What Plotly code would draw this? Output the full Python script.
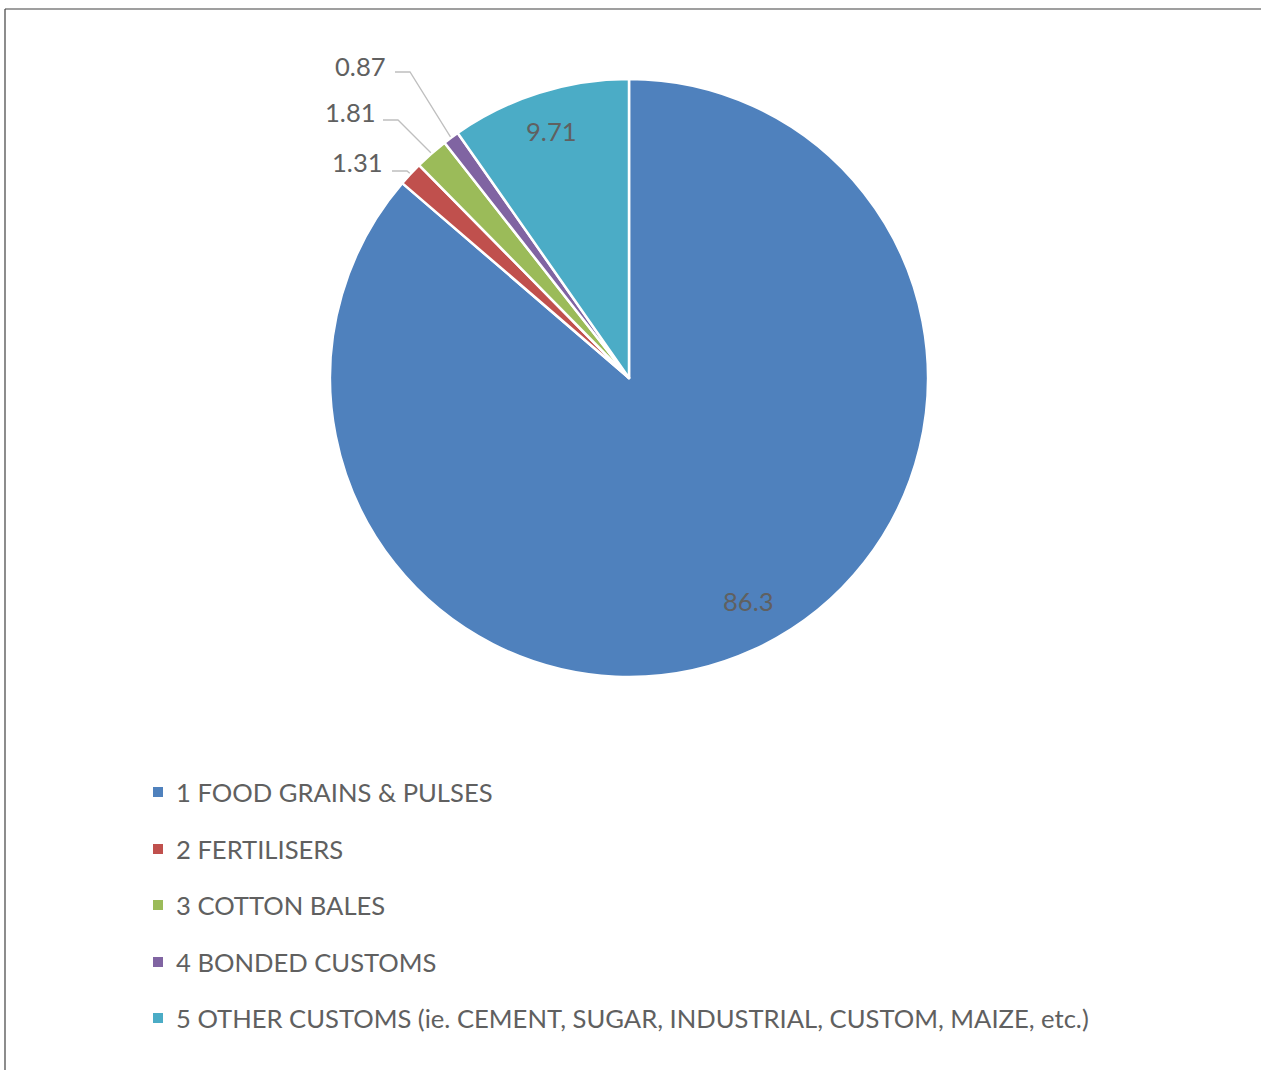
import math
import plotly.graph_objects as go

# ---- data ----
categories = [
    "1 FOOD GRAINS & PULSES",
    "2 FERTILISERS",
    "3 COTTON BALES",
    "4 BONDED CUSTOMS",
    "5 OTHER CUSTOMS (ie. CEMENT, SUGAR, INDUSTRIAL, CUSTOM, MAIZE, etc.)",
]
values = [86.3, 1.31, 1.81, 0.87, 9.71]
value_labels = ["86.3", "1.31", "1.81", "0.87", "9.71"]

# ---- styles / layout ----
colors = ["#4F81BD", "#C0504D", "#9BBB59", "#8064A2", "#4BACC6"]
W, H = 1261, 1070
CX, CY, R = 629, 378, 299
FONT = "Lato, Calibri, Carlito, 'Open Sans', sans-serif"
TEXT_COLOR = "#606060"
FS = 25.6

# label placement
# inside: ("inside", radius fraction, dx px, dy px)
# outside: ("outside", label right x, label y, line y, line x0, elbow x)
label_place = {
    0: ("inside", 0.85, 13, -8),
    4: ("inside", 0.865, 0, 0),
    1: ("outside", 385, 162, 171, 392, 407),
    2: ("outside", 378, 112, 120, 383, 398),
    3: ("outside", 388, 66, 72, 395, 410),
}
legend_rows_y = [792, 849, 905, 962, 1018]
legend_marker_x = 158
legend_text_x = 174


def px(x, y):
    return x / W, 1 - y / H


fig = go.Figure()
fig.add_trace(go.Pie(
    labels=categories,
    values=values,
    sort=False,
    direction="clockwise",
    rotation=0,
    marker=dict(colors=colors, line=dict(color="white", width=2.5)),
    textinfo="none",
    showlegend=False,
    domain=dict(
        x=[(CX - R) / W, (CX + R) / W],
        y=[1 - (CY + R) / H, 1 - (CY - R) / H],
    ),
))

annotations = []
shapes = []

total = sum(values)
cum = 0.0
for i, v in enumerate(values):
    mid = (cum + v / 2) / total * 360.0
    cum += v
    a = math.radians(mid)
    place = label_place[i]
    if place[0] == "inside":
        r = R * place[1]
        x = CX + r * math.sin(a) + place[2]
        y = CY - r * math.cos(a) + place[3]
        xp, yp = px(x, y)
        annotations.append(dict(
            x=xp, y=yp, xref="paper", yref="paper", text=value_labels[i],
            showarrow=False, xanchor="center", yanchor="middle",
            font=dict(family=FONT, size=FS, color=TEXT_COLOR),
        ))
    else:
        _, lx, ly, liney, x0, ex = place
        ex2 = CX + (R + 1) * math.sin(a)
        ey2 = CY - (R + 1) * math.cos(a)
        xp, yp = px(lx, ly)
        annotations.append(dict(
            x=xp, y=yp, xref="paper", yref="paper", text=value_labels[i],
            showarrow=False, xanchor="right", yanchor="middle",
            font=dict(family=FONT, size=FS, color=TEXT_COLOR),
        ))
        p0 = px(x0, liney)
        p1 = px(ex, liney)
        p2 = px(ex2, ey2)
        shapes.append(dict(
            type="path", xref="paper", yref="paper",
            path=f"M {p0[0]} {p0[1]} L {p1[0]} {p1[1]} L {p2[0]} {p2[1]}",
            line=dict(color="#BFBFBF", width=1.3),
        ))

# manual legend
for i, cat in enumerate(categories):
    ry = legend_rows_y[i]
    a0 = px(legend_marker_x - 5, ry - 5)
    a1 = px(legend_marker_x + 5, ry + 5)
    shapes.append(dict(
        type="rect", xref="paper", yref="paper",
        x0=a0[0], y0=a0[1], x1=a1[0], y1=a1[1],
        fillcolor=colors[i], line=dict(width=0),
    ))
    tp = px(legend_text_x, ry)
    annotations.append(dict(
        x=tp[0], y=tp[1], xref="paper", yref="paper", text=cat,
        showarrow=False, xanchor="left", yanchor="middle",
        font=dict(family=FONT, size=FS, color=TEXT_COLOR),
    ))

# chart border (top and left visible)
b0 = px(5, 9)
b1 = px(W, H)
shapes.append(dict(type="line", xref="paper", yref="paper",
                   x0=b0[0], y0=b0[1], x1=b1[0], y1=b0[1],
                   line=dict(color="#404040", width=1.2)))
shapes.append(dict(type="line", xref="paper", yref="paper",
                   x0=b0[0], y0=b0[1], x1=b0[0], y1=b1[1],
                   line=dict(color="#404040", width=1.2)))

fig.update_layout(
    width=W, height=H, autosize=False,
    margin=dict(l=0, r=0, t=0, b=0),
    paper_bgcolor="white", plot_bgcolor="white",
    annotations=annotations, shapes=shapes,
    showlegend=False,
)

fig.write_html(
    "out.html",
    config={"displayModeBar": False},
    post_script="document.body.style.margin='0';document.body.style.overflow='hidden';",
)
